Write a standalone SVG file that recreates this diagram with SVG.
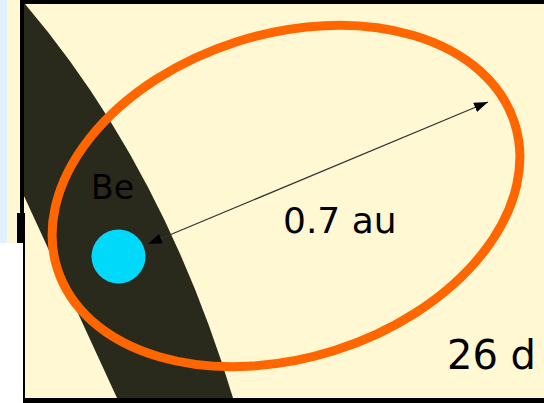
<svg xmlns="http://www.w3.org/2000/svg" width="544" height="403" viewBox="0 0 544 403">
<style>
.lbl{font-family:"DejaVu Sans",sans-serif;fill:#000}
.frame{fill:#000}
</style>
<defs>
<marker id="ah" viewBox="0 0 14 10" refX="14" refY="5" markerWidth="14" markerHeight="10" markerUnits="userSpaceOnUse" orient="auto-start-reverse">
<path d="M0,0 L14,5 L0,10 Z" fill="#000"/>
</marker>
</defs>
<g id="background">
<rect x="0" y="0" width="544" height="403" fill="#FFF8D2"/>
<rect x="0" y="0" width="7" height="243" fill="#E0F0FF"/>
<rect x="0" y="243" width="23" height="160" fill="#FFFFFF"/>
</g>
<g id="disc">
<path d="M24,4 L25,4 Q163.6,167 233,398 L117,398 L24,196 Z" fill="#29291C"/>
</g>
<g id="orbit">
<ellipse cx="286" cy="196" rx="240" ry="162" transform="rotate(-17.7 286 196)" fill="none" stroke="#FF6600" stroke-width="9"/>
</g>
<g id="star">
<circle cx="118.5" cy="256.5" r="27" fill="#00D9FA"/>
<text class="lbl" x="91" y="199" font-size="33">Be</text>
</g>
<g id="connectors">
<line x1="148" y1="244" x2="488" y2="102" stroke="#333" stroke-width="1.2" marker-start="url(#ah)" marker-end="url(#ah)"/>
</g>
<g id="label-distance">
<text class="lbl" x="283" y="233" font-size="36">0.7 au</text>
</g>
<g id="label-period">
<text class="lbl" x="447" y="369" font-size="40">26 d</text>
</g>
<g id="frame">
<rect class="frame" x="20" y="0" width="524" height="4"/>
<rect class="frame" x="20" y="0" width="4" height="213"/>
<rect class="frame" x="17" y="213" width="8" height="30"/>
<rect class="frame" x="23" y="243" width="2" height="160"/>
<rect class="frame" x="23" y="398" width="521" height="5"/>
</g>
</svg>
